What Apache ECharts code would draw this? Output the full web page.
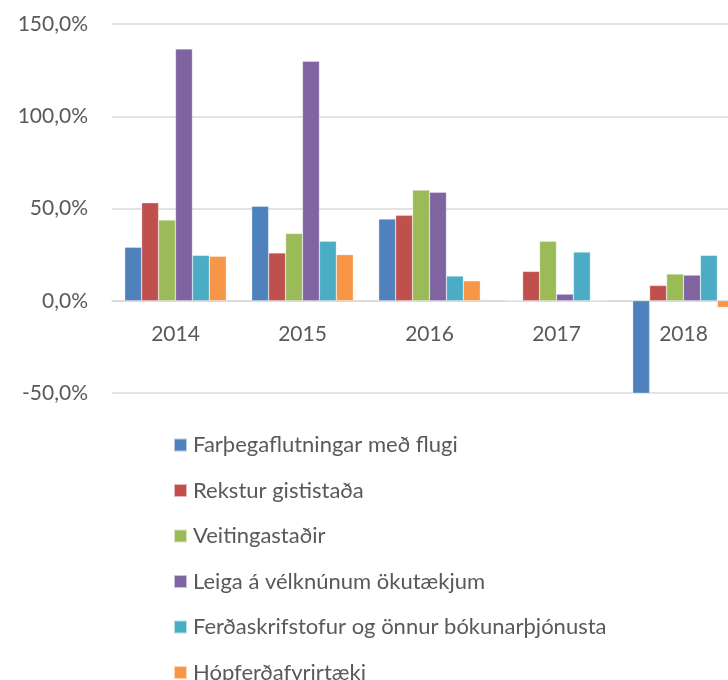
<!DOCTYPE html>
<html>
<head>
<meta charset="utf-8">
<script src="https://cdn.jsdelivr.net/npm/echarts@6/dist/echarts.min.js"></script>
<style>
  html, body { margin: 0; padding: 0; background: #fff; overflow: hidden; }
  /* the original picture is cut off on the right, so draw wider and let it clip */
  #chart { width: 760px; height: 680px; }
</style>
</head>
<body>
<div id="chart"></div>
<script>
const years = ['2014', '2015', '2016', '2017', '2018'];
const seriesNames = [
  'Farþegaflutningar með flugi',
  'Rekstur gististaða',
  'Veitingastaðir',
  'Leiga á vélknúnum ökutækjum',
  'Ferðaskrifstofur og önnur bókunarþjónusta',
  'Hópferðafyrirtæki'
];
const flug = [29.0, 51.2, 44.3, 0, -60.0];
const gisting = [53.1, 25.9, 46.3, 15.9, 8.3];
const veitingar = [43.8, 36.5, 60.0, 32.2, 14.5];
const leiga = [136.5, 129.8, 58.8, 3.6, 13.9];
const ferdaskrif = [24.6, 32.2, 13.4, 26.4, 24.6];
const hopferdir = [24.1, 25.0, 10.8, 0.3, -3.6];
const colors = ['#4f81bd', '#c0504d', '#9bbb59', '#8064a2', '#4bacc6', '#f79646'];
const yMin = -50, yMax = 150;

const allValues = [flug, gisting, veitingar, leiga, ferdaskrif, hopferdir];
const font = 'Lato, "Noto Sans", sans-serif';

// plot area
const gridTop = 24, gridBottom = 287;
const plotHeight = 680 - gridTop - gridBottom;
// move the category axis up to the zero line
const zeroOffset = -plotHeight * (0 - yMin) / (yMax - yMin);

const chart = echarts.init(document.getElementById('chart'));
chart.setOption({
  animation: false,
  color: colors,
  textStyle: { fontFamily: font },
  grid: { left: 112, width: 635, top: gridTop, bottom: gridBottom, containLabel: false },
  legend: {
    orient: 'vertical',
    left: 173,
    top: 434,
    height: 400,
    padding: 0,
    itemWidth: 13,
    itemHeight: 13,
    itemGap: 23.5,
    icon: 'rect',
    textStyle: { fontSize: 22, color: '#595959', fontFamily: font, padding: [0, 0, 0, 1] },
    data: seriesNames
  },
  xAxis: {
    type: 'category',
    data: years,
    offset: zeroOffset,
    axisLine: { onZero: false, lineStyle: { color: '#d9d9d9', width: 1.5 } },
    axisTick: { show: false },
    axisLabel: { fontSize: 21, color: '#595959', margin: 23 },
    splitLine: { show: false }
  },
  yAxis: {
    type: 'value',
    min: yMin,
    max: yMax,
    interval: 50,
    axisLine: { show: false },
    axisTick: { show: false },
    axisLabel: {
      fontSize: 21,
      color: '#595959',
      margin: 24,
      formatter: v => v.toFixed(1).replace('.', ',') + '%'
    },
    splitLine: { lineStyle: { color: '#d9d9d9', width: 1.5 } }
  },
  series: seriesNames.map((name, i) => ({
    name: name,
    type: 'bar',
    data: allValues[i],
    barGap: '0%',
    barCategoryGap: '20%',
    itemStyle: { borderColor: 'rgba(255,255,255,0.6)', borderWidth: 0.5 }
  }))
});
</script>
</body>
</html>
